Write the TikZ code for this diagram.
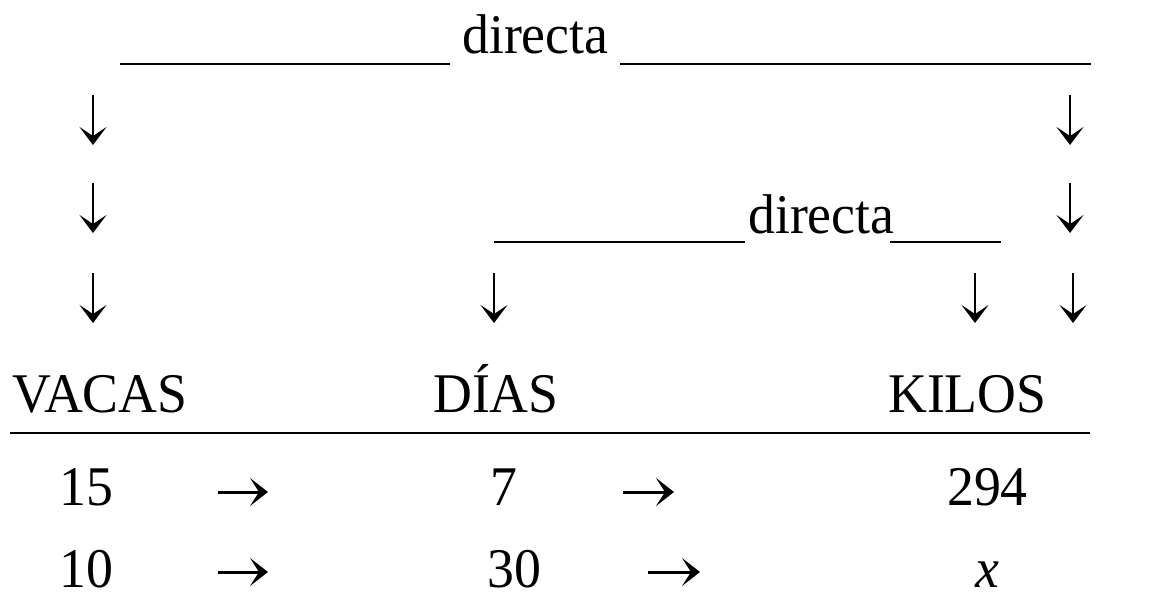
\documentclass[tikz,border=0pt]{standalone}
\usepackage{fontspec}
\setmainfont{Liberation Serif}[FakeStretch=0.96]
\usepackage{xcolor}
\usepackage{tikz}
\usetikzlibrary{arrows.meta}
\definecolor{ink}{HTML}{000000}
\tikzset{
  word/.style={font=\fontsize{56}{60}\selectfont, text=ink, inner sep=0pt, anchor=base west},
  rule/.style={draw=ink, line width=2.8pt},
  down/.style={draw=ink, line width=1.8pt, -{Stealth[length=18pt,width=27pt,inset=9pt]}},
  right/.style={draw=ink, line width=3pt, -{Stealth[length=18pt,width=28pt,inset=9pt]}}
}
\begin{document}
\begin{tikzpicture}[x=1pt,y=-1pt]
  \useasboundingbox (0,0) rectangle (1155,611);

  % top relation
  \node[word] (dirA) at (462,53) {directa};
  \coordinate (tA1) at (120,64);  \coordinate (tA2) at (450,64);
  \coordinate (tA3) at (620,64);  \coordinate (tA4) at (1091,64);
  \draw[rule] (tA1)--(tA2);
  \draw[rule] (tA3)--(tA4);

  % inner relation
  \node[word] (dirB) at (748,233) {directa};
  \coordinate (tB1) at (494,242); \coordinate (tB2) at (745,242);
  \coordinate (tB3) at (890,242); \coordinate (tB4) at (1001,242);
  \draw[rule] (tB1)--(tB2);
  \draw[rule] (tB3)--(tB4);

  % down arrows
  \coordinate (a1) at (93,95);    \coordinate (b1) at (93,145);
  \coordinate (a2) at (93,183);   \coordinate (b2) at (93,233);
  \coordinate (a3) at (93,273);   \coordinate (b3) at (93,323);
  \coordinate (a4) at (1070,95);  \coordinate (b4) at (1070,145);
  \coordinate (a5) at (1070,183); \coordinate (b5) at (1070,233);
  \coordinate (a6) at (1073,273); \coordinate (b6) at (1073,323);
  \coordinate (a7) at (494,273);  \coordinate (b7) at (494,323);
  \coordinate (a8) at (975,273);  \coordinate (b8) at (975,323);
  \draw[down] (a1)--(b1);
  \draw[down] (a2)--(b2);
  \draw[down] (a3)--(b3);
  \draw[down] (a4)--(b4);
  \draw[down] (a5)--(b5);
  \draw[down] (a6)--(b6);
  \draw[down] (a7)--(b7);
  \draw[down] (a8)--(b8);

  % headers
  \node[word] (vacas) at (12,412) {VACAS};
  \node[word] (dias) at (433,412) {DÍAS};
  \node[word] (kilos) at (888,412) {KILOS};
  \coordinate (h1) at (10,433); \coordinate (h2) at (1090,433);
  \draw[rule] (h1)--(h2);

  % first row
  \node[word] (v1) at (59,505) {15};
  \node[word] (d1) at (490,505) {7};
  \node[word] (k1) at (947,505) {294};
  \coordinate (p1) at (218,492); \coordinate (q1) at (268,492);
  \coordinate (p2) at (623,492); \coordinate (q2) at (674,492);
  \draw[right] (p1)--(q1);
  \draw[right] (p2)--(q2);

  % second row
  \node[word] (v2) at (59,587) {10};
  \node[word] (d2) at (487,587) {30};
  \node[word] (k2) at (975,587) {\itshape x};
  \coordinate (p3) at (218,572); \coordinate (q3) at (268,572);
  \coordinate (p4) at (648,572); \coordinate (q4) at (700,572);
  \draw[right] (p3)--(q3);
  \draw[right] (p4)--(q4);
\end{tikzpicture}
\end{document}
